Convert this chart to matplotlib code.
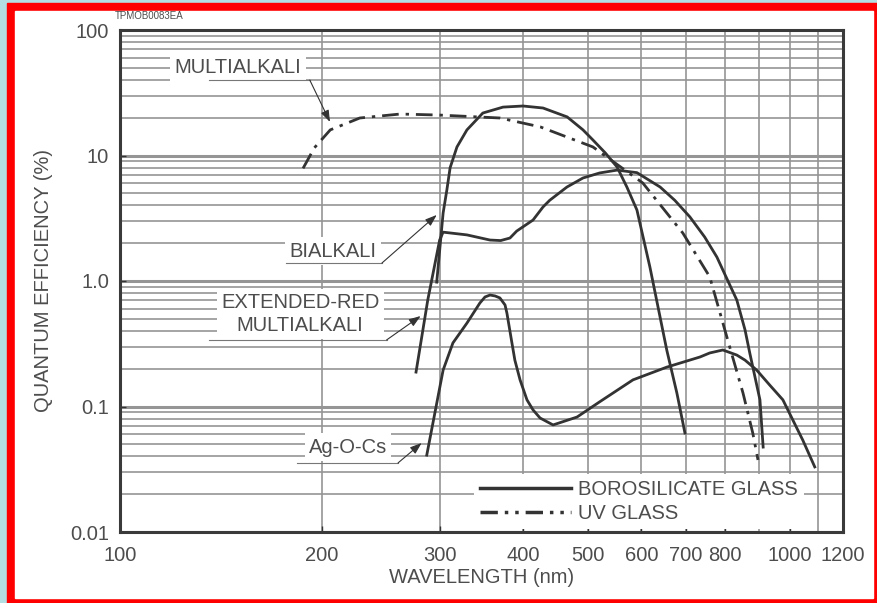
import matplotlib
matplotlib.use("Agg")
import matplotlib.pyplot as plt
from matplotlib.patches import Rectangle
from matplotlib.lines import Line2D
from matplotlib.ticker import FixedLocator, NullFormatter, NullLocator

plt.rcParams["font.family"] = ["Liberation Sans", "DejaVu Sans"]

# wavelength (nm) / quantum efficiency (%)
bialkali_nm = [297, 303.6, 307.5, 311, 318.4, 329.5, 348, 373, 399.5, 428,
               465, 491, 508, 530, 552, 571, 591, 618, 655, 678, 697]
bialkali_qe = [0.98, 3.48, 5.3, 8.0, 11.7, 16, 21.8, 24.3, 24.8, 23.9,
               20.3, 16, 13.3, 10.5, 8.1, 5.6, 3.68, 1.29, 0.28, 0.128, 0.0615]

ext_red_nm = [276.6, 288, 300, 303.6, 329.5, 356.7, 370, 382, 391, 413.5,
              428, 438, 464.7, 491, 520, 552, 591, 640, 673, 709, 746, 778,
              804, 833, 857, 871, 902, 912]
ext_red_qe = [0.188, 0.706, 2.12, 2.45, 2.33, 2.12, 2.1, 2.2, 2.5, 3.06,
              3.89, 4.4, 5.61, 6.62, 7.26, 7.65, 7.3, 5.61, 4.4, 3.24, 2.24,
              1.55, 1.06, 0.706, 0.407, 0.267, 0.113, 0.0475]

agocs_nm = [287, 303.6, 314, 329.5, 344.5, 350.6, 356.7, 363, 369, 375.6,
            378, 384.6, 388.5, 395.5, 405, 413.5, 423.6, 443, 481, 520, 583,
            655, 734, 759, 794, 833, 857, 892, 933, 976, 1045, 1089]
agocs_qe = [0.041, 0.195, 0.321, 0.462, 0.668, 0.746, 0.773, 0.76, 0.733,
            0.644, 0.556, 0.321, 0.234, 0.163, 0.113, 0.094, 0.081, 0.0713,
            0.0824, 0.109, 0.163, 0.206, 0.248, 0.267, 0.282, 0.257, 0.234,
            0.195, 0.148, 0.113, 0.054, 0.033]

multi_uv_nm = [187.6, 195, 206, 228, 262, 300, 369, 424, 508, 603, 692, 759,
               813, 851, 880, 896]
multi_uv_qe = [7.9, 11.5, 16, 19.9, 21.4, 21, 19.9, 16.9, 11.7, 6.04, 2.41,
               1.08, 0.298, 0.128, 0.0615, 0.0375]

x_ticks = [100, 200, 300, 400, 500, 600, 700, 800, 1000, 1200]
x_grid = [200, 300, 400, 500, 600, 700, 800, 900, 1000, 1100]
y_ticks = [0.01, 0.1, 1, 10, 100]
y_tick_labels = ["0.01", "0.1", "1.0", "10", "100"]

INK = "#333333"
TXT = "#4d4d4d"
GRID = "#959595"

W, H = 878, 603
fig = plt.figure(figsize=(W / 100, H / 100), dpi=100, facecolor="#b4dfe2")
# red frame + white page
fig.add_artist(Rectangle((7 / W, 0), (W - 7) / W, (H - 3) / H,
                         transform=fig.transFigure, color="#ff0000", zorder=-10))
fig.add_artist(Rectangle((15 / W, 5 / H), (873 - 15) / W, (598 - 11) / H,
                         transform=fig.transFigure, color="white", zorder=-9))

ax = fig.add_axes([120 / W, (H - 532) / H, 723 / W, 502 / H])
ax.set_xscale("log")
ax.set_yscale("log")
ax.set_xlim(100, 1200)
ax.set_ylim(0.01, 100)

# grid
for v in x_grid:
    ax.axvline(v, color=GRID, lw=1.2, zorder=1)
for dec in [0.01, 0.1, 1, 10]:
    for k in range(2, 10):
        ax.axhline(dec * k, color=GRID, lw=1.2, zorder=1)
    ax.axhline(dec, color=GRID, lw=2.2, zorder=1)

lw = 2.0
ax.plot(bialkali_nm, bialkali_qe, color=INK, lw=lw, zorder=4)
ax.plot(ext_red_nm, ext_red_qe, color=INK, lw=lw, zorder=4)
ax.plot(agocs_nm, agocs_qe, color=INK, lw=lw, zorder=4)
ax.plot(multi_uv_nm, multi_uv_qe, color=INK, lw=lw, zorder=4,
        dashes=(6, 2.5, 1.2, 2.5))

# axes style
ax.xaxis.set_major_locator(FixedLocator(x_ticks))
ax.xaxis.set_minor_locator(NullLocator())
ax.xaxis.set_minor_formatter(NullFormatter())
ax.set_xticklabels([str(v) for v in x_ticks])
ax.yaxis.set_major_locator(FixedLocator(y_ticks))
ax.yaxis.set_minor_locator(NullLocator())
ax.set_yticklabels(y_tick_labels)
ax.tick_params(axis="both", direction="in", length=4, width=1, color=INK,
               labelsize=14.5, labelcolor=TXT)
ax.tick_params(axis="x", pad=10)
ax.tick_params(axis="y", pad=8)
for s in ax.spines.values():
    s.set_color("#3a3a3a")
    s.set_linewidth(2.2)
ax.set_xlabel("WAVELENGTH (nm)", fontsize=14.5, color=TXT, labelpad=2)
ax.set_ylabel("QUANTUM EFFICIENCY (%)", fontsize=14.5, color=TXT, labelpad=12)
fig.text(115 / W, 1 - 16 / H, "TPMOB0083EA", fontsize=7, color=TXT,
         va="center", ha="left")

# labels with leaders
box = dict(facecolor="white", edgecolor="none", pad=3)
arrow = dict(arrowstyle="-|>,head_length=0.7,head_width=0.25", color=INK,
             lw=0.8, shrinkA=0, shrinkB=0)


def label(text, xy_text, ul, tip):
    ax.text(xy_text[0], xy_text[1], text, fontsize=14.5, color=TXT,
            ha="center", va="center", bbox=box, zorder=3, linespacing=1.3)
    ax.plot([ul[0], ul[1]], [ul[2], ul[2]], color="#777777", lw=0.8, zorder=3)
    ax.annotate("", xy=tip, xytext=(ul[1], ul[2]), arrowprops=arrow, zorder=5)


label("MULTIALKALI", (150, 50.7), (136, 192, 39.9), (205.8, 18.5))
label("BIALKALI", (208, 1.73), (177, 246, 1.39), (297, 3.36))
label("EXTENDED-RED\nMULTIALKALI", (185.7, 0.546), (136, 250, 0.339), (281, 0.526))
label("Ag-O-Cs", (219, 0.0475), (183.7, 260, 0.0355), (282, 0.0512))

handles = [Line2D([], [], color=INK, lw=2.5),
           Line2D([], [], color=INK, lw=2.5, dashes=(5, 2, 1, 2, 1, 2))]
leg = ax.legend(handles, ["BOROSILICATE GLASS", "UV GLASS"], loc="lower left",
                bbox_to_anchor=((474 - 120) / 723, 0.006), borderaxespad=0,
                fontsize=14.5, frameon=True, handlelength=4.5,
                handletextpad=0.35, labelspacing=0.25, borderpad=0.3,
                fancybox=False)
leg.get_frame().set_edgecolor("none")
leg.get_frame().set_facecolor("white")
leg.get_frame().set_alpha(1)
leg.set_zorder(6)
for t in leg.get_texts():
    t.set_color(TXT)

fig.savefig("out.png", dpi=100, facecolor=fig.get_facecolor())
